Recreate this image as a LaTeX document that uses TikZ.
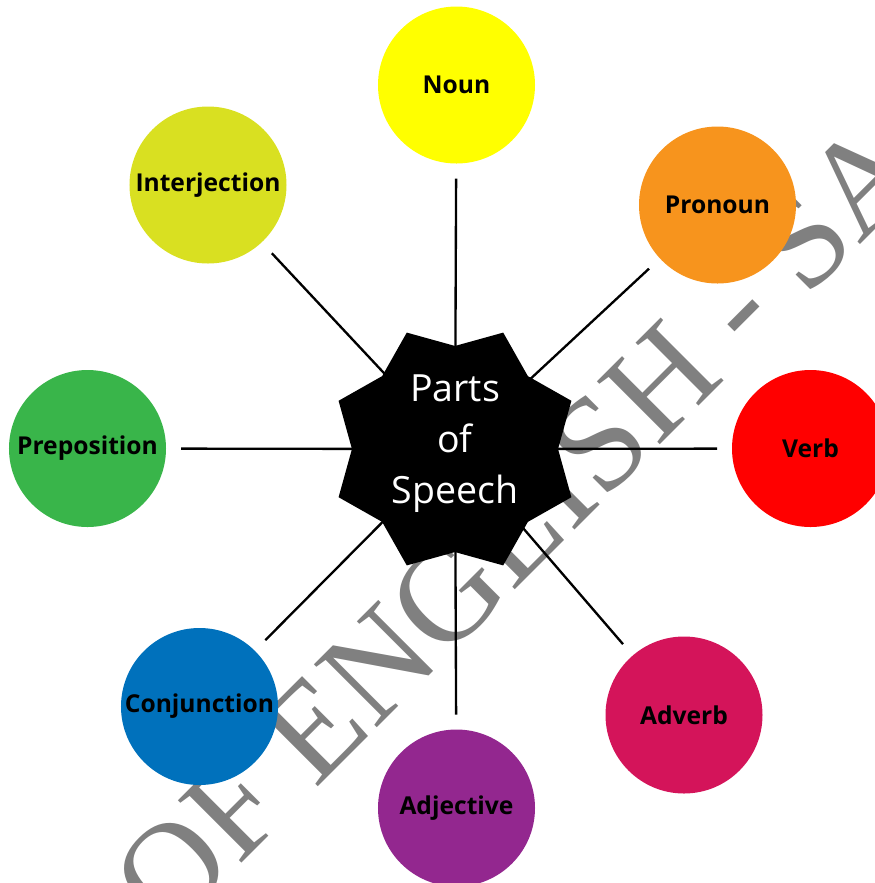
\documentclass[tikz,border=0pt]{standalone}
\usepackage{fontspec}
\setmainfont{Open Sans}
\newfontfamily\wmfont{Liberation Serif}
\usetikzlibrary{shapes.geometric,backgrounds}
\definecolor{nouncol}{HTML}{FFFF00}
\definecolor{pronouncol}{HTML}{F7941D}
\definecolor{verbcol}{HTML}{FF0000}
\definecolor{adverbcol}{HTML}{D4145A}
\definecolor{adjcol}{HTML}{93278F}
\definecolor{conjcol}{HTML}{0071BC}
\definecolor{prepcol}{HTML}{39B54A}
\definecolor{interjcol}{HTML}{D9E021}
\definecolor{wmgray}{HTML}{808080}

\begin{document}
\begin{tikzpicture}[x=0.03cm,y=-0.03cm,
  part/.style={circle,minimum size=4.71cm,inner sep=0pt,outer sep=0.45cm,
    font=\fontsize{21}{25}\selectfont\bfseries},
  link/.style={line width=2pt,black}]
\useasboundingbox (0,0) rectangle (875,883);
% hub
\node[star,star points=8,star point ratio=1.223,shape border rotate=22.5,
  minimum size=7.56cm,inner sep=0pt,fill=black] (pos) at (455,449) {};
\node[text=white,align=center,inner sep=0pt,
  font=\fontsize{32}{43.5}\selectfont] (postext) at (455,444) {Parts\\of\\Speech};
% the eight parts
\node[part,fill=nouncol] (noun) at (456.5,85) {Noun};
\node[part,fill=pronouncol] (pronoun) at (717.5,205) {Pronoun};
\node[part,fill=verbcol] (verb) at (810.5,448.5) {Verb};
\node[part,fill=adverbcol] (adverb) at (684,715) {Adverb};
\node[part,fill=adjcol] (adj) at (456.5,808) {Adjective};
\node[part,fill=conjcol] (conj) at (199.5,706.5) {Conjunction};
\node[part,fill=prepcol] (prep) at (87.5,448.5) {Preposition};
\node[part,fill=interjcol] (interj) at (208,185) {Interjection};
\begin{scope}[on background layer]
\clip (0,0) rectangle (875,883);
\node[rotate=45,anchor=base west,inner sep=0pt,text=wmgray,
  font=\wmfont\fontsize{116}{116}\selectfont] (wm) at (168.5,936.5) {OF ENGLISH - SA};
\foreach \p in {noun,pronoun,verb,adverb,adj,conj,prep,interj}
  \draw[link] (pos.center) -- (\p);
\end{scope}
\end{tikzpicture}
\end{document}
